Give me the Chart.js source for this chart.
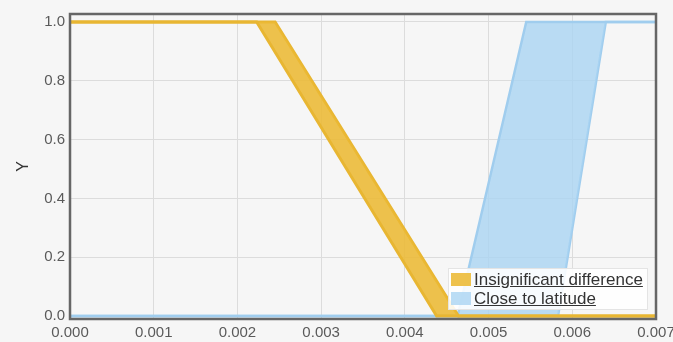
<!DOCTYPE html>
<html lang="en">
<head>
<meta charset="UTF-8" />
<title>Bands</title>
<script src="https://cdn.jsdelivr.net/npm/chart.js"></script>
<style>
  html, body { margin: 0; padding: 0; background: #f6f6f6; }
  #wrap { position: relative; width: 673px; height: 342px; }
  #legend {
    position: absolute; left: 448px; top: 268px; width: 200px;
    background: rgba(255,255,255,0.88); border: 1px solid #e4e4e4; padding: 1px 0 1px 2px; box-sizing: border-box;
    font-family: "Liberation Sans", Arial, sans-serif; font-size: 17px; color: #333;
  }
  #legend div { display: flex; align-items: center; height: 19px; white-space: nowrap; }
  #legend span.sw { display: inline-block; width: 20px; height: 13px; margin-right: 3px; flex: none; }
  #legend span.t { text-decoration: underline; }
</style>
</head>
<body>
<div id="wrap">
  <canvas id="chart" width="673" height="342"></canvas>
  <div id="legend"></div>
</div>
<script>
// Band edges (x, y)
const insigLeftX  = [0, 0.00223, 0.00438, 0.007];
const insigLeftY  = [1, 1, 0, 0];
const insigRightX = [0, 0.00245, 0.00464, 0.007];
const insigRightY = [1, 1, 0, 0];

const closeLeftX  = [0, 0.00463, 0.00545, 0.007];
const closeLeftY  = [0, 0, 1, 1];
const closeRightX = [0, 0.00583, 0.0064, 0.007];
const closeRightY = [0, 0, 1, 1];

const xTicks = [0, 0.001, 0.002, 0.003, 0.004, 0.005, 0.006, 0.007];
const yTicks = [0, 0.2, 0.4, 0.6, 0.8, 1.0];

const seriesNames = ['Insignificant difference', 'Close to latitude'];
const fillColors = ['rgba(236,186,52,0.88)', 'rgba(170,212,243,0.8)'];
const edgeColors = ['rgb(232,182,50)', 'rgb(160,205,238)'];

function pts(xs, ys) {
    return xs.map((x, i) => ({ x: x, y: ys[i] }));
}

// legend as html
const legend = document.getElementById('legend');
seriesNames.forEach((name, i) => {
    const row = document.createElement('div');
    row.innerHTML = '<span class="sw" style="background:' + fillColors[i] + '"></span><span class="t">' + name + '</span>';
    legend.appendChild(row);
});

const frame = {
    id: 'frame',
    afterDatasetsDraw(chart) {
        const a = chart.chartArea;
        const ctx = chart.ctx;
        ctx.save();
        ctx.strokeStyle = '#666';
        ctx.lineWidth = 2.5;
        ctx.strokeRect(a.left, a.top, a.right - a.left, a.bottom - a.top);
        ctx.restore();
    }
};

const font = { family: '"Liberation Sans", Arial, sans-serif', size: 15 };

new Chart(document.getElementById('chart').getContext('2d'), {
    type: 'line',
    data: {
        datasets: [
            { label: seriesNames[0], data: pts(insigLeftX, insigLeftY), borderColor: edgeColors[0], borderWidth: 3, pointRadius: 0, fill: '+1', backgroundColor: fillColors[0] },
            { label: seriesNames[0] + ' edge', data: pts(insigRightX, insigRightY), borderColor: edgeColors[0], borderWidth: 3, pointRadius: 0, fill: false },
            { label: seriesNames[1], data: pts(closeLeftX, closeLeftY), borderColor: edgeColors[1], borderWidth: 2.5, pointRadius: 0, fill: '+1', backgroundColor: fillColors[1] },
            { label: seriesNames[1] + ' edge', data: pts(closeRightX, closeRightY), borderColor: edgeColors[1], borderWidth: 2.5, pointRadius: 0, fill: false }
        ]
    },
    options: {
        responsive: false,
        animation: false,
        layout: { padding: { top: 14, right: 17, left: 14, bottom: 0 } },
        plugins: { legend: { display: false }, tooltip: { enabled: false } },
        scales: {
            x: {
                type: 'linear', min: 0, max: 0.007,
                afterBuildTicks: s => { s.ticks = xTicks.map(v => ({ value: v })); },
                afterFit: s => { s.height = 23; s.paddingLeft = 0; s.paddingRight = 0; },
                grid: { color: '#dcdcdc', drawTicks: false },
                border: { display: false },
                ticks: { font: font, color: '#5a5a5a', padding: 5, maxRotation: 0, callback: v => v.toFixed(3) }
            },
            y: {
                min: -0.01, max: 1.027,
                afterBuildTicks: s => { s.ticks = yTicks.map(v => ({ value: v })); },
                afterFit: s => { s.width = 56; },
                grid: { color: '#dcdcdc', drawTicks: false },
                border: { display: false },
                title: { display: true, text: 'Y', font: { family: font.family, size: 16 }, color: '#333', padding: 0 },
                ticks: { font: font, color: '#5a5a5a', padding: 5, callback: v => v.toFixed(1) }
            }
        }
    },
    plugins: [frame]
});
</script>
</body>
</html>
